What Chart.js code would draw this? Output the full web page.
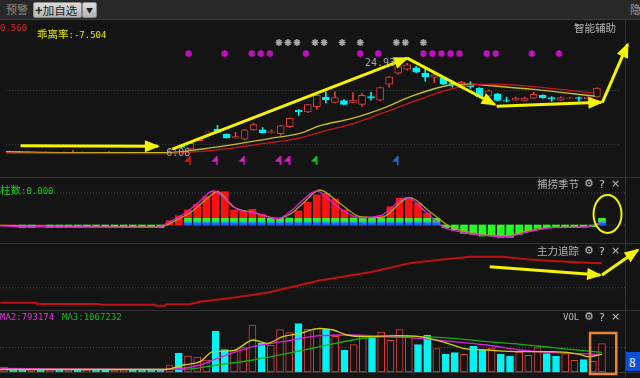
<!DOCTYPE html>
<html>
<head>
<meta charset="utf-8">
<script src="https://cdn.jsdelivr.net/npm/chart.js@4.4.1/dist/chart.umd.min.js"></script>
<style>
  body { margin: 0; width: 640px; height: 378px; overflow: hidden; position: relative; background: #141414;
         font-family: "Noto Sans CJK SC", sans-serif; }
  .pane { position: absolute; left: 0; width: 640px; z-index: 2; }
  .sep { position: absolute; background: #343434; z-index: 1; }
  .t { position: absolute; white-space: nowrap; z-index: 3; line-height: 1; }
  .cn { font-size: 10.5px; color: #b4b4b4; }
  .mono { font-family: "DejaVu Sans Mono", monospace; font-size: 9px; }
  .ico { font-size: 11px; color: #c4c4c4; font-family: "DejaVu Sans", sans-serif; }
</style>
</head>
<body>
<!-- header bar -->
<div style="position:absolute;left:0;top:0;width:640px;height:19px;background:#282828;border-bottom:1px solid #3c3c3c;z-index:1"></div>
<div class="t" style="left:6px;top:4px;font-size:11px;color:#8c8c8c">预警</div>
<div class="t" style="left:33px;top:2px;width:46px;height:14px;background:linear-gradient(#dcdcdc,#b4b4b4);border:1px solid #8a8a8a;border-radius:2px;font-size:11.5px;color:#1c1c1c;line-height:14px;padding-left:1px"><b style="font-size:13px">+</b>加自选</div>
<div class="t" style="left:82px;top:2px;width:13px;height:14px;background:linear-gradient(#dcdcdc,#b4b4b4);border:1px solid #8a8a8a;border-radius:2px;font-size:7px;color:#222;line-height:14px;text-align:center">▼</div>
<div class="t" style="left:630px;top:4px;font-size:11px;color:#9a9a9a">隐</div>

<!-- separators -->
<div class="sep" style="left:625px;top:20px;width:1px;height:358px"></div>
<div class="sep" style="left:0;top:177px;width:640px;height:1px"></div>
<div class="sep" style="left:0;top:243px;width:640px;height:1px"></div>
<div class="sep" style="left:0;top:310px;width:640px;height:1px"></div>
<div class="sep" style="left:0;top:372px;width:640px;height:1px"></div>

<div class="pane" style="top:20px;height:157px"><canvas id="cMain"></canvas></div>
<div class="pane" style="top:178px;height:65px"><canvas id="cSeason"></canvas></div>
<div class="pane" style="top:244px;height:66px"><canvas id="cTrack"></canvas></div>
<div class="pane" style="top:311px;height:67px"><canvas id="cVol"></canvas></div>

<!-- panel labels -->
<div class="t mono" style="left:0;top:24px;color:#e02828">0.560</div>
<div class="t" style="left:37px;top:23px;color:#e6e600"><span style="font-size:10.5px">乖离率</span><span class="mono">:-7.504</span></div>
<div class="t cn" style="left:574px;top:23px">智能辅助</div>

<div class="t" style="left:0;top:179px;color:#10d010"><span style="font-size:10.5px">柱数</span><span class="mono">:0.000</span></div>
<div class="t cn" style="left:537px;top:179px">捕捞季节</div>
<div class="t ico" style="left:584px;top:178px">⚙</div>
<div class="t ico" style="left:599px;top:179px">?</div>
<div class="t ico" style="left:611px;top:178px">×</div>

<div class="t cn" style="left:537px;top:246px">主力追踪</div>
<div class="t ico" style="left:584px;top:245px">⚙</div>
<div class="t ico" style="left:599px;top:246px">?</div>
<div class="t ico" style="left:611px;top:245px">×</div>

<div class="t mono" style="left:0;top:313px;color:#e030e0">MA2:793174</div>
<div class="t mono" style="left:62px;top:313px;color:#10c010">MA3:1067232</div>
<div class="t mono" style="left:563px;top:313px;color:#b4b4b4">VOL</div>
<div class="t ico" style="left:584px;top:311px">⚙</div>
<div class="t ico" style="left:599px;top:312px">?</div>
<div class="t ico" style="left:611px;top:311px">×</div>

<div class="t" style="left:626px;top:352px;width:14px;height:19px;background:#0b4fd6;color:#fff;font-size:12px;line-height:19px;padding-left:3px;box-sizing:border-box">8</div>

<script>
// ---- data ----
const candleOpen  = [6.40,6.46,6.38,6.27,6.36,6.27,6.34,6.29,6.34,6.27,6.32,6.26,6.18,6.24,6.30,6.22,6.17,6.14,6.12,
  7.62,7.04,8.77,10.45,11.10,10.15,9.35,9.10,11.00,11.00,10.45,10.20,11.66,15.10,14.73,15.80,17.80,16.70,17.10,16.70,
  16.30,17.90,17.20,20.50,22.80,23.60,23.90,22.80,21.90,21.85,20.70,19.80,20.30,19.70,18.00,18.50,17.10,17.20,17.10,
  17.60,18.20,17.70,17.20,17.55,17.70,17.50,17.85];
const candleHigh  = [6.62,6.50,6.42,6.38,6.40,6.36,6.38,6.75,6.40,6.35,6.36,6.45,6.30,6.34,6.34,6.26,6.20,6.18,7.05,
  7.75,8.35,9.40,10.60,11.95,10.20,10.50,11.10,12.40,11.50,11.00,11.95,13.45,15.20,16.30,18.30,18.90,18.90,17.30,18.70,
  18.60,18.80,19.90,22.10,24.93,24.80,24.20,23.90,22.60,22.00,21.20,21.10,21.00,19.80,19.30,18.60,17.80,17.80,17.80,
  18.85,18.30,17.90,17.90,17.80,17.85,17.90,19.75];
const candleLow   = [6.35,6.30,6.26,6.24,6.26,6.24,6.25,6.25,6.24,6.22,6.20,6.12,6.14,6.20,6.18,6.12,6.10,6.08,6.10,
  7.25,6.95,8.70,10.40,10.40,9.30,9.30,8.90,10.90,10.30,10.30,9.90,11.50,14.00,14.60,15.30,16.60,16.60,16.20,16.60,
  15.90,17.20,17.00,19.90,22.60,23.40,22.90,21.10,20.80,20.40,19.90,19.70,19.60,17.80,17.70,17.00,16.80,17.10,17.00,
  17.50,17.60,16.90,17.10,17.50,16.90,17.40,17.80];
const candleClose = [6.52,6.34,6.30,6.34,6.29,6.33,6.29,6.34,6.28,6.32,6.24,6.18,6.26,6.31,6.21,6.15,6.13,6.11,6.98,
  7.35,8.20,9.35,10.55,10.50,9.35,9.60,11.00,12.10,10.40,10.65,11.90,13.39,14.75,16.27,18.20,17.30,17.70,16.30,17.20,
  18.20,17.60,19.80,22.04,24.16,24.50,23.00,22.04,22.45,20.50,20.30,20.90,20.00,17.90,19.10,17.10,16.95,17.60,17.60,
  18.40,17.70,17.50,17.70,17.65,17.55,17.80,19.70];

// price moving averages, [bar index, price]
const priceMaFast = [[-0.4,6.46],[8.3,6.27],[17.0,6.27],[21.3,7.04],[24.9,8.0],[28.6,9.16],[32.2,10.31],[34.3,11.85],
  [37.9,13.39],[41.6,15.7],[44.5,18.0],[48.2,20.12],[50.7,20.5],[53.6,20.12],[58.3,19.35],[64.8,18.0]];
const priceMaSlow = [[-0.4,6.18],[17.0,6.08],[21.3,6.56],[24.9,7.29],[28.6,8.29],[32.2,9.35],[34.3,10.5],[37.9,12.23],
  [41.6,14.73],[45.2,17.23],[48.2,19.16],[51.0,20.31],[53.6,20.5],[58.3,19.93],[64.8,18.58]];

// signal markers (bar indices)
const grayStarIdx = [30,31,32,34,35,37,39,43,44,46];
const pinkStarIdx = [20,24,27,28,29,33,39,41,46,47,48,49,50,53,54,58,61];
const flagIdx     = [20,23,26,30,31,34,43];
const flagColor   = ['#e01818','#e020d0','#e020d0','#e020d0','#e020d0','#10d010','#1e6ee8'];

// hand-drawn arrows on the price panel, [bar index, price]
const priceArrows = [
  [[1.2,7.71],[16.4,7.62]],
  [[18.0,7.0],[44.0,25.9]],
  [[44.0,25.9],[53.7,16.27]],
  [[53.9,15.9],[65.5,16.72]],
  [[65.6,16.7],[68.4,28.77]]
];

// 捕捞季节 panel
const seasonBar = [0,0,-2.5,-2.5,0,-2.5,-2.5,-2.5,-2.5,-2,-2,-2,-2,-2.5,-2.5,-2.5,-2.5,-2.5,
  4.3,9.3,15,20.7,28.3,34,33.3,15,12.7,15.7,10.7,6.7,5,7.3,14,22.7,30,31.7,26,15,8.3,8.3,7.3,9.3,18.3,26.7,27.3,21.7,11.7,3.3,
  -2.7,-5,-8.3,-9.3,-11,-11,-12.3,-12.3,-9.3,-6,-3.3,-2.7,-2.7,-2.3,-2,-2,-1.7,0];
const seasonBaseIdx = [20,21,22,23,24,25,26,27,28,29,30,31,32,33,34,35,36,37,38,39,40,41,42,43,44,45,46,47,65];
const seasonBaseLayers = [[0,2],[2,3.7],[3.7,6.7]];
const seasonFast = [[-0.4,-0.7],[1.7,-1.7],[8.6,-2],[16.6,-2.3],[17.3,0],[18.4,5],[19.9,13.3],[21.3,24],[22.7,34],
  [24.2,25],[25.7,14],[27.1,12.7],[28.6,8.3],[29.7,6],[31.1,13.3],[32.5,25],[34.0,34],[34.3,33.3],[36.5,16.7],[38.7,7.3],
  [40.9,9.3],[43.8,27.3],[46.0,11.7],[47.7,-1.7],[49.9,-7.3],[52.5,-10.7],[54.7,-11.7],[56.8,-7.3],[59.7,-2.7],
  [63.4,-1.7],[65.0,2.7]];
const seasonSlow = [[-0.4,-0.5],[8.6,-1.5],[16.6,-2],[17.6,-0.5],[18.4,3.3],[20.5,14],[22.1,26.7],[23.2,33.3],
  [24.9,18.3],[27.1,12.7],[29.7,6.7],[31.1,10.7],[32.5,21.7],[34.3,35],[36.5,21.7],[38.7,8.3],[40.9,7.3],[44.1,27.3],
  [46.3,13.3],[48.5,-1.7],[50.7,-7.3],[52.5,-10],[54.7,-10.7],[56.8,-6],[59.7,-2.3],[63.4,-1.7],[64.8,1.7]];

// 主力追踪 panel
const trackLine = [[-0.4,7.3],[3.5,7.3],[3.6,6],[10.4,6],[10.5,5.3],[16.4,5.3],[16.5,4.3],[17.5,4.3],[17.6,5.7],
  [20.2,5.7],[21.3,8.3],[24.9,12.3],[28.6,17.3],[32.2,25],[34.3,29.5],[39.8,37.7],[44.1,46.7],[47.1,50],[50.7,53.3],
  [54.2,53.3],[56.8,50.7],[59.7,49],[63.4,47.3],[65.0,46.7]];
const trackArrows = [ [[52.8,43.3],[64.8,35]], [[65.0,35],[68.9,60]] ];

// VOL panel
const volume = [200000,80000,80000,100000,80000,88000,72000,100000,80000,72000,80000,100000,80000,88000,80000,80000,
  88000,80000,280000,760000,640000,600000,480000,1640000,896000,880000,976000,1880000,1160000,1080000,1696000,1576000,
  1936000,1708000,1736000,1708000,1428000,868000,1096000,1468000,1428000,1600000,1268000,1696000,1400000,1096000,
  1468000,936000,708000,776000,708000,1028000,908000,960000,708000,628000,800000,668000,976000,736000,628000,736000,
  468000,496000,428000,1136000];
const volMa1 = [[-0.4,100000],[17.5,100000],[19.5,280000],[21.3,412000],[22.7,812000],[24.9,852000],[27.1,1280000],
  [28.6,1148000],[30.3,1412000],[32.2,1548000],[34.3,1748000],[35.8,1680000],[37.3,1480000],[39.0,1412000],
  [42.7,1452000],[45.2,1412000],[48.2,1148000],[49.9,948000],[52.5,880000],[56.1,812000],[59.7,812000],
  [62.6,708000],[63.4,612000],[65.0,708000]];
const volMa2 = [[-0.4,148000],[17.5,100000],[21.3,280000],[23.2,548000],[27.1,1012000],[30.3,1212000],[34.3,1452000],
  [37.3,1480000],[41.6,1412000],[45.2,1348000],[48.8,1212000],[52.5,1080000],[56.1,880000],[59.7,772000],[65.0,708000]];
const volMa3 = [[-0.4,108000],[19.5,108000],[23.2,280000],[27.1,480000],[30.3,708000],[34.3,1012000],[37.9,1280000],
  [41.6,1412000],[45.2,1412000],[48.8,1348000],[52.5,1212000],[56.1,1108000],[59.7,972000],[65.0,788000]];

// ---- drawing ----
Chart.defaults.font.family = '"DejaVu Sans Mono", monospace';
const RED = '#e23c3c', CYAN = '#00f2f2', BG = '#141414', YEL = '#f4f400';
const X_MIN = -4 / 9.2, X_MAX = 636 / 9.2;     // bar i sits at 4 + 9.2*i px
const bars = candleOpen.map((_, i) => i);
const up = i => candleClose[i] >= candleOpen[i];
const pts = arr => arr.map(p => ({ x: p[0], y: p[1] }));

// little pennant used for the buy flags under the candles
function flagIcon(color) {
  const c = document.createElement('canvas');
  c.width = 7; c.height = 9;
  const g = c.getContext('2d');
  g.fillStyle = color;
  g.beginPath(); g.moveTo(6, 0); g.lineTo(0, 6); g.lineTo(6, 6); g.closePath(); g.fill();
  g.fillRect(5, 0, 1.5, 9);
  return c;
}

const overlay = {
  id: 'overlay',
  afterDatasetsDraw(chart, args, o) {
    const { ctx } = chart;
    const xs = chart.scales.x, ys = chart.scales.y;
    ctx.save();
    chart.data.datasets.forEach((ds, di) => {
      if (!ds.arrow) return;
      const el = chart.getDatasetMeta(di).data;
      const a = el[el.length - 2], b = el[el.length - 1];
      const ang = Math.atan2(b.y - a.y, b.x - a.x);
      const c = Math.cos(ang), s = Math.sin(ang), L = 13, W = 6;
      ctx.fillStyle = ds.borderColor;
      ctx.beginPath();
      ctx.moveTo(b.x + 2 * c, b.y + 2 * s);
      ctx.lineTo(b.x - L * c + W * s, b.y - L * s - W * c);
      ctx.lineTo(b.x - L * c - W * s, b.y - L * s + W * c);
      ctx.closePath();
      ctx.fill();
    });
    (o.ellipses || []).forEach(e => {
      ctx.strokeStyle = e.color; ctx.lineWidth = e.width;
      ctx.beginPath();
      ctx.ellipse(xs.getPixelForValue(e.x), ys.getPixelForValue(e.y), e.rx, e.ry, 0, 0, Math.PI * 2);
      ctx.stroke();
    });
    (o.rects || []).forEach(r => {
      const x0 = xs.getPixelForValue(r.x0), x1 = xs.getPixelForValue(r.x1);
      const y0 = ys.getPixelForValue(r.y0), y1 = ys.getPixelForValue(r.y1);
      ctx.strokeStyle = r.color; ctx.lineWidth = r.width;
      ctx.strokeRect(x0, y1, x1 - x0, y0 - y1);
    });
    (o.texts || []).forEach(t => {
      ctx.fillStyle = t.color; ctx.font = t.font;
      ctx.textAlign = t.align; ctx.textBaseline = 'middle';
      ctx.fillText(t.text, xs.getPixelForValue(t.x) + t.dx, ys.getPixelForValue(t.y) + t.dy);
    });
    ctx.restore();
  }
};

function lineDs(data, color, width, order, extra) {
  return Object.assign({ type: 'line', data: pts(data), borderColor: color, borderWidth: width,
    pointRadius: 0, order, cubicInterpolationMode: 'monotone' }, extra || {});
}
function gridDs(val, order) {
  return { type: 'line', data: [{ x: X_MIN, y: val }, { x: 67.5, y: val }], borderColor: '#4a4a4a',
    borderWidth: 1, borderDash: [1, 2], pointRadius: 0, order };
}
function arrowDs(seg, order) {
  return { type: 'line', data: pts(seg), borderColor: YEL, borderWidth: 3, pointRadius: 0,
    order, arrow: true, clip: false };
}
function makeChart(id, datasets, yMin, yMax, ov) {
  return new Chart(document.getElementById(id), {
    type: 'bar',
    data: { datasets },
    options: {
      responsive: true, maintainAspectRatio: false, animation: false, devicePixelRatio: 1, events: [],
      layout: { padding: 0 },
      plugins: { legend: { display: false }, tooltip: { enabled: false }, overlay: ov || {} },
      scales: {
        x: { type: 'linear', display: false, min: X_MIN, max: X_MAX, offset: false },
        y: { type: 'linear', display: false, min: yMin, max: yMax }
      }
    },
    plugins: [overlay]
  });
}

// price panel: 6.08 sits at page y 158, 5.2 px per yuan, canvas spans y 20..177
const P_MAX = 6.08 + 138 / 5.2, P_MIN = 6.08 - 19 / 5.2;
const GRAY_STAR = 6.08 + 120 / 5.2, PINK_STAR = 6.08 + 108 / 5.2, FLAG_LVL = 6.08 - 7 / 5.2;
const hiI = candleHigh.indexOf(Math.max(...candleHigh));
const loI = candleLow.indexOf(Math.min(...candleLow));

makeChart('cMain', [
  gridDs(19.16, 9), gridDs(8.0, 9),
  { data: bars.map(i => ({ x: i, y: [candleLow[i], candleHigh[i]] })), barThickness: 1,
    backgroundColor: bars.map(i => up(i) ? RED : CYAN), grouped: false, order: 6 },
  { data: bars.map(i => ({ x: i, y: [candleOpen[i], candleClose[i]] })), barThickness: 7,
    backgroundColor: bars.map(i => up(i) ? BG : CYAN), borderColor: bars.map(i => up(i) ? RED : CYAN),
    borderWidth: 1, borderSkipped: false, grouped: false, order: 5 },
  lineDs(priceMaSlow, '#c81818', 1.3, 4),
  lineDs(priceMaFast, '#c8c020', 1.3, 4),
  { type: 'line', data: grayStarIdx.map(i => ({ x: i - 0.2, y: GRAY_STAR })), showLine: false,
    pointStyle: 'star', pointRadius: 3.5, borderColor: '#a8a8a8', borderWidth: 1.6, order: 3 },
  { type: 'line', data: pinkStarIdx.map(i => ({ x: i - 0.2, y: PINK_STAR })), showLine: false,
    pointStyle: 'star', pointRadius: 3.5, borderColor: '#c010c0', borderWidth: 1.8, order: 3 },
  { type: 'line', data: flagIdx.map(i => ({ x: i - 0.3, y: FLAG_LVL })), showLine: false,
    pointStyle: flagColor.map(flagIcon), pointRadius: 4, order: 3 },
  ...priceArrows.map(s => arrowDs(s, 0))
], P_MIN, P_MAX, {
  texts: [
    { x: hiI, y: candleHigh[hiI], text: candleHigh[hiI].toFixed(2), color: '#a8a8a8',
      font: '10px "DejaVu Sans Mono"', align: 'right', dx: -3, dy: 1 },
    { x: loI, y: candleLow[loI], text: candleLow[loI].toFixed(2), color: '#a8a8a8',
      font: '10px "DejaVu Sans Mono"', align: 'left', dx: 3, dy: 0 }
  ]
});

// 捕捞季节: 1 unit = 1 px, zero at page y 225
const layerColor = ['#1060ff', '#00c8ff', '#30f030'];
makeChart('cSeason', [
  gridDs(32, 9), gridDs(0, 9),
  { data: bars.map(i => ({ x: i, y: seasonBar[i] })), barThickness: 7,
    backgroundColor: bars.map(i => seasonBar[i] >= 0 ? '#ff1010' : '#20ff20'), grouped: false, order: 6 },
  ...seasonBaseLayers.map((l, k) => ({
    data: seasonBaseIdx.map(i => ({ x: i, y: l })), barThickness: 7,
    backgroundColor: layerColor[k], grouped: false, order: 5 })),
  lineDs(seasonSlow, '#b0a020', 1.3, 2),
  lineDs(seasonFast, '#e020e0', 1.3, 1)
], -18, 47, { ellipses: [{ x: 65.6, y: 11, rx: 14, ry: 19, color: YEL, width: 2 }] });

// 主力追踪: value = px above page y 310
makeChart('cTrack', [
  gridDs(22.3, 9),
  lineDs(trackLine, '#c01010', 2, 2, { cubicInterpolationMode: 'default', tension: 0 }),
  ...trackArrows.map(s => arrowDs(s, 0))
], 0, 66);

// VOL: 40000 per px, baseline at page y 372
makeChart('cVol', [
  gridDs(980000, 9),
  { data: bars.map(i => ({ x: i, y: volume[i] })), barThickness: 7,
    backgroundColor: bars.map(i => up(i) ? BG : CYAN), borderColor: bars.map(i => up(i) ? RED : CYAN),
    borderWidth: 1, borderSkipped: false, grouped: false, order: 5 },
  lineDs(volMa3, '#10b010', 1.3, 3),
  lineDs(volMa2, '#e020e0', 1.3, 2),
  lineDs(volMa1, '#d0d010', 1.3, 1)
], -240000, 2440000, { rects: [{ x0: 63.7, x1: 66.55, y0: -80000, y1: 1560000, color: '#ec8438', width: 2.5 }] });
</script>
</body>
</html>
